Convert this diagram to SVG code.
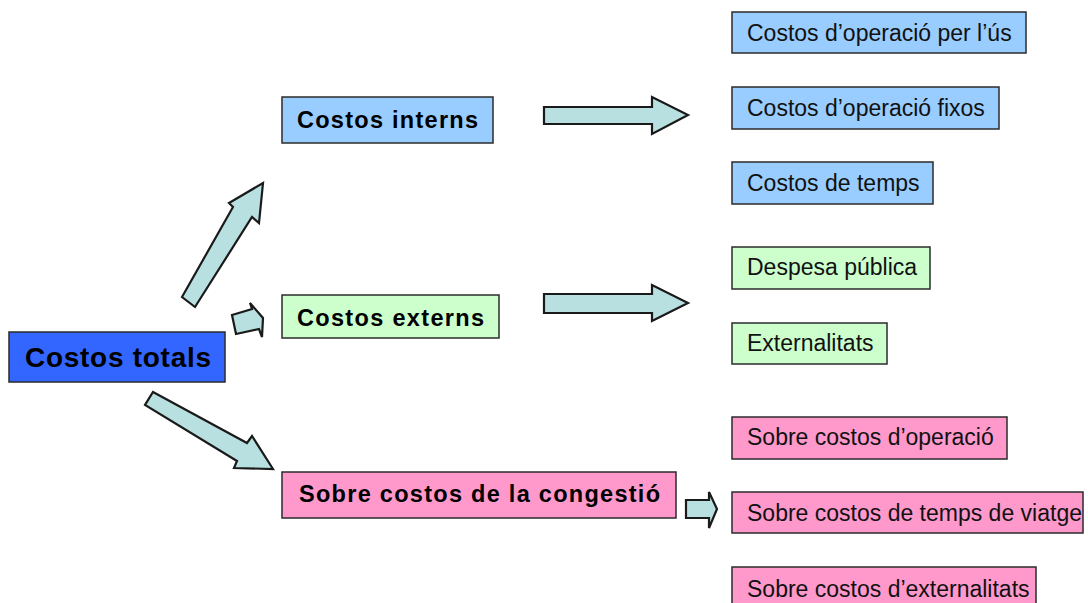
<svg xmlns="http://www.w3.org/2000/svg" width="1088" height="603" viewBox="0 0 1088 603">
<style>
  .box { stroke: #2b2b2b; stroke-width: 1.5; }
  .blue { fill: #99CCFF; }
  .green { fill: #CCFFCC; }
  .pink { fill: #FF99CC; }
  .main { fill: #3366FF; }
  .arrow { fill: #B9E0E0; stroke: #1a1a1a; stroke-width: 2.2; stroke-linejoin: miter; }
  .bold { font-family: "Liberation Sans", Arial, sans-serif; font-weight: bold; font-size: 23.5px; fill: #000; }
  .big { font-family: "Liberation Sans", Arial, sans-serif; font-weight: bold; font-size: 28px; fill: #000; }
  .reg { font-family: "Liberation Sans", Arial, sans-serif; font-size: 23px; fill: #111; }
</style>
<rect width="1088" height="603" fill="#ffffff"/>
<g id="connectors">
  <polygon class="arrow" points="182,297 233,207 229,203 263,183 259,223 252,217 195,307"/>
  <polygon class="arrow" points="232,315 252,309 250,303 263,318 262,337 259,329 236,334"/>
  <polygon class="arrow" points="153,392 247,443 252,436 273,469 234,468 237,461 145,405"/>
  <polygon class="arrow" points="544,107 652,107 652,97 688,115 652,134 652,124 544,124"/>
  <polygon class="arrow" points="544,294 652,294 652,285 688,303 652,321 652,313 544,313"/>
  <polygon class="arrow" points="686,500 709,500 709,492 717,509 709,528 709,518 686,518"/>
</g>
<g id="costos-totals">
  <rect class="box main" x="9" y="332" width="216" height="50"/>
  <text class="big" x="25" y="367" textLength="186" lengthAdjust="spacing">Costos totals</text>
</g>
<g id="costos-interns">
  <rect class="box blue" x="282" y="97" width="211" height="46"/>
  <text class="bold" x="297" y="128" textLength="181" lengthAdjust="spacing">Costos interns</text>
</g>
<g id="costos-externs">
  <rect class="box green" x="282" y="295" width="217" height="43"/>
  <text class="bold" x="297" y="326" textLength="187" lengthAdjust="spacing">Costos externs</text>
</g>
<g id="sobre-costos-congestio">
  <rect class="box pink" x="282" y="472" width="394" height="46"/>
  <text class="bold" x="299" y="502" textLength="361" lengthAdjust="spacing">Sobre costos de la congestió</text>
</g>
<g id="costos-operacio-us">
  <rect class="box blue" x="732" y="12" width="294" height="41"/>
  <text class="reg" x="747" y="41">Costos d’operació per l’ús</text>
</g>
<g id="costos-operacio-fixos">
  <rect class="box blue" x="732" y="87" width="267" height="42"/>
  <text class="reg" x="747" y="116">Costos d’operació fixos</text>
</g>
<g id="costos-temps">
  <rect class="box blue" x="732" y="162" width="201" height="42"/>
  <text class="reg" x="747" y="191">Costos de temps</text>
</g>
<g id="despesa-publica">
  <rect class="box green" x="732" y="247" width="198" height="42"/>
  <text class="reg" x="747" y="275">Despesa pública</text>
</g>
<g id="externalitats">
  <rect class="box green" x="732" y="323" width="155" height="41"/>
  <text class="reg" x="747" y="351">Externalitats</text>
</g>
<g id="sobre-costos-operacio">
  <rect class="box pink" x="732" y="417" width="275" height="42"/>
  <text class="reg" x="747" y="445">Sobre costos d’operació</text>
</g>
<g id="sobre-costos-temps-viatge">
  <rect class="box pink" x="732" y="492" width="351" height="41"/>
  <text class="reg" x="747" y="521">Sobre costos de temps de viatge</text>
</g>
<g id="sobre-costos-externalitats">
  <rect class="box pink" x="732" y="567" width="304" height="42"/>
  <text class="reg" x="747" y="597">Sobre costos d’externalitats</text>
</g>
</svg>
